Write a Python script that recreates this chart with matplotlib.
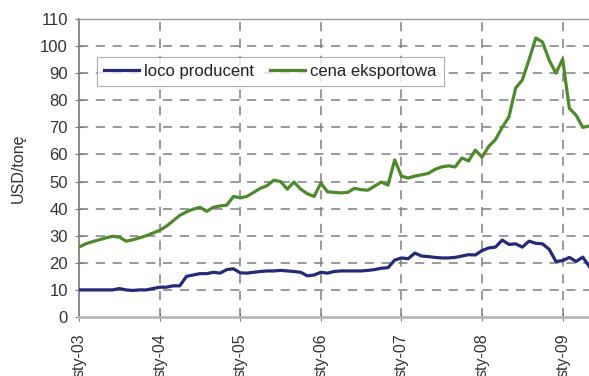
import matplotlib
matplotlib.use("Agg")
import matplotlib.pyplot as plt

# Monthly prices, Jan 2003 - May 2009 (USD per tonne)
loco_producent = [
    10, 10, 10, 10, 10, 10, 10.5, 10, 9.8, 10, 10, 10.5,
    11, 11, 11.5, 11.5, 15, 15.5, 16, 16, 16.5, 16.2, 17.5, 17.8,
    16.3, 16.2, 16.5, 16.8, 17, 17, 17.2, 17, 16.8, 16.5, 15.2, 15.5,
    16.5, 16.2, 16.8, 17, 17, 17, 17, 17.2, 17.5, 18, 18.2, 21,
    21.8, 21.5, 23.6, 22.5, 22.3, 22, 21.8, 21.8, 22, 22.5, 23, 22.9,
    24.5, 25.5, 25.8, 28.4, 26.8, 27, 25.8, 28, 27.2, 27, 25, 20.5,
    20.8, 22, 20.5, 22.1, 18.5,
]
cena_eksportowa = [
    25.8, 27, 27.8, 28.5, 29.2, 29.8, 29.5, 28, 28.5, 29.2, 30, 31,
    32, 33.5, 35.5, 37.5, 38.8, 39.8, 40.5, 39, 40.5, 41, 41.3, 44.5,
    44, 44.5, 46, 47.5, 48.5, 50.5, 50, 47.2, 49.8, 47.2, 45.5, 44.5,
    49.4, 46.2, 46, 45.8, 46, 47.5, 47, 46.8, 48.3, 49.8, 48.7, 58,
    52, 51.3, 52, 52.5, 53, 54.5, 55.4, 55.8, 55.4, 58.7, 57.6, 61.6,
    59, 63, 65.5, 70, 73.8, 84.5, 87.5, 95, 103, 101.5, 94.8, 90,
    95.2, 77, 74.5, 70, 70.5,
]
year_labels = ["sty-03", "sty-04", "sty-05", "sty-06", "sty-07", "sty-08", "sty-09"]
y_ticks = list(range(0, 111, 10))

months = list(range(len(loco_producent)))
year_ticks = [12 * i for i in range(len(year_labels))]

plt.rcParams["font.family"] = ["Liberation Sans", "DejaVu Sans"]

fig = plt.figure(figsize=(5.89, 3.76), dpi=100)
ax = fig.add_axes([79 / 589, (376 - 317) / 376, 1 - 79 / 589 + 0.01, (317 - 19) / 376])

# dashed grid, one line per tick
for y in y_ticks[1:-1]:
    ax.plot([0, 1], [y, y], transform=ax.get_yaxis_transform(), color="#7f7f7f",
            lw=1.1, dashes=(6, 5), zorder=1)
for x in year_ticks[1:]:
    ax.plot([x, x], [0, 1], transform=ax.get_xaxis_transform(), color="#7f7f7f",
            lw=1.1, dashes=(6, 5), zorder=1)

ax.plot(months, loco_producent, color="#242a78", lw=2.3, label="loco producent", zorder=3)
ax.plot(months, cena_eksportowa, color="#4e8a2c", lw=2.3, label="cena eksportowa", zorder=3)

ax.set_xlim(0, 76.8)
ax.set_ylim(0, 110)
ax.set_yticks(y_ticks)
ax.set_xticks(year_ticks)
ax.set_xticklabels(year_labels, rotation=90, va="top", ha="center")
ax.tick_params(axis="both", direction="inout", length=6, width=0.8, color="#777777",
               labelsize=12, labelcolor="#333333")
ax.tick_params(axis="x", pad=9, labelsize=11.5)
ax.tick_params(axis="y", pad=5)

ax.spines["right"].set_visible(False)
ax.spines["top"].set_color("#9a9a9a")
ax.spines["top"].set_linewidth(1.0)
ax.spines["left"].set_color("#777777")
ax.spines["left"].set_linewidth(1.2)
ax.spines["bottom"].set_color("#b8b8b8")
ax.spines["bottom"].set_linewidth(2.0)

ax.set_ylabel("USD/tonę", fontsize=11.5, color="#333333", labelpad=10)

handles = ax.get_lines()[-2:]
leg = ax.legend(handles=handles, loc="upper left", bbox_to_anchor=(0.018, 0.9), ncol=2,
                fontsize=12, frameon=True, fancybox=False, edgecolor="#999999",
                borderpad=0.42, handlelength=2.1, columnspacing=1.0, handletextpad=0.3)
leg.get_frame().set_linewidth(0.8)
for t in leg.get_texts():
    t.set_color("#222222")

fig.savefig("out.png", dpi=100)
